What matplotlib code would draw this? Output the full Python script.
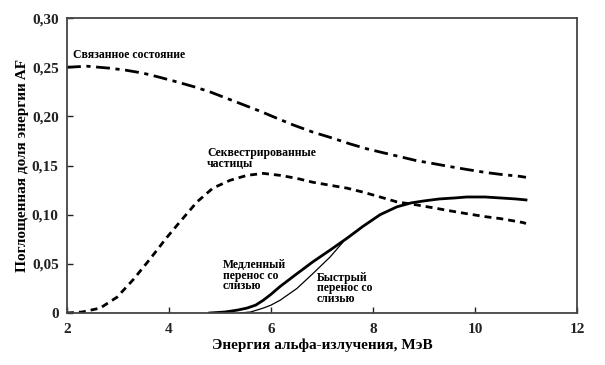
import matplotlib.pyplot as plt
from matplotlib.ticker import FixedLocator, FixedFormatter

plt.rcParams["font.family"] = ["Liberation Serif", "DejaVu Serif"]
plt.rcParams["font.weight"] = "bold"

# Связанное состояние (dash-dot)
bound_x = [2.0, 2.4, 2.84, 3.15, 3.49, 3.8, 4.16, 4.5, 4.8, 5.1, 5.45, 5.8, 6.12, 6.45, 6.82,
           7.2, 7.55, 7.88, 8.2, 8.53, 8.85, 9.18, 9.5, 9.84, 10.2, 10.5, 10.88, 11.0]
bound_y = [0.250, 0.251, 0.249, 0.247, 0.244, 0.240, 0.235, 0.230, 0.225, 0.219, 0.212, 0.205,
           0.198, 0.191, 0.184, 0.178, 0.172, 0.167, 0.163, 0.159, 0.155, 0.152, 0.149,
           0.146, 0.143, 0.141, 0.139, 0.138]

# Секвестрированные частицы (dashed)
seq_x = [2.0, 2.3, 2.65, 2.98, 3.3, 3.63, 3.96, 4.22, 4.55, 4.86, 5.2, 5.53, 5.85, 6.18, 6.5,
         6.82, 7.15, 7.49, 7.8, 8.14, 8.47, 8.85, 9.18, 9.5, 9.84, 10.2, 10.5, 10.94, 11.0]
seq_y = [0.0, 0.001, 0.005, 0.016, 0.034, 0.055, 0.077, 0.093, 0.113, 0.127, 0.135, 0.140,
         0.142, 0.140, 0.137, 0.133, 0.130, 0.127, 0.123, 0.118, 0.113, 0.110, 0.107, 0.104,
         0.101, 0.098, 0.096, 0.092, 0.091]

# Медленный перенос со слизью (thick solid)
slow_x = [4.8, 5.1, 5.35, 5.53, 5.7, 5.85, 6.0, 6.18, 6.51, 6.82, 7.16, 7.49, 7.8, 8.14,
          8.47, 8.75, 9.0, 9.3, 9.6, 9.84, 10.2, 10.5, 10.8, 11.0]
slow_y = [0.0, 0.001, 0.003, 0.005, 0.008, 0.013, 0.019, 0.027, 0.040, 0.052, 0.064, 0.076,
          0.088, 0.100, 0.108, 0.112, 0.114, 0.116, 0.117, 0.118, 0.118, 0.117, 0.116, 0.115]

# Быстрый перенос со слизью (thin solid)
fast_x = [5.39, 5.6, 5.85, 6.0, 6.18, 6.51, 6.82, 7.16, 7.41]
fast_y = [0.0, 0.001, 0.005, 0.008, 0.013, 0.025, 0.040, 0.057, 0.072]

x_ticks = [2, 4, 6, 8, 10, 12]
y_ticks = [0, 0.05, 0.10, 0.15, 0.20, 0.25, 0.30]
y_labels = ["0", "0,05", "0,10", "0,15", "0,20", "0,25", "0,30"]

fig = plt.figure(figsize=(6.05, 3.65), dpi=100)
ax = fig.add_axes([0.1107, 0.1425, 0.843, 0.808])

ax.plot(bound_x, bound_y, color="black", lw=2.0, dashes=(5, 2, 1.5, 2))
ax.plot(seq_x, seq_y, color="black", lw=2.0, dashes=(2.5, 1.8))
ax.plot(slow_x, slow_y, color="black", lw=2.0)
ax.plot(fast_x, fast_y, color="black", lw=0.9)

ax.set_xlim(2, 12)
ax.set_ylim(0, 0.30)
ax.xaxis.set_major_locator(FixedLocator(x_ticks))
ax.yaxis.set_major_locator(FixedLocator(y_ticks))
ax.yaxis.set_major_formatter(FixedFormatter(y_labels))
ax.tick_params(direction="in", length=4, width=1, labelsize=11, pad=6, colors="#222222")
ax.tick_params(axis="x", pad=7)
for s in ax.spines.values():
    s.set_color("#444444")
    s.set_linewidth(1.3)

ax.set_xlabel("Энергия альфа-излучения, МэВ", fontsize=11, fontweight="bold", labelpad=2)
ax.set_ylabel("Поглощенная доля энергии AF", fontsize=11, fontweight="bold", labelpad=2)

fs = 8.5
ax.text(2.12, 0.262, "Связанное состояние", fontsize=fs, fontweight="bold", va="center")
ax.text(4.75, 0.157, "Секвестрированные\nчастицы", fontsize=fs, fontweight="bold",
        va="center", linespacing=0.85)
ax.text(5.06, 0.038, "Медленный\nперенос со\nслизью", fontsize=fs, fontweight="bold",
        va="center", linespacing=0.85)
ax.text(6.9, 0.025, "Быстрый\nперенос со\nслизью", fontsize=fs, fontweight="bold",
        va="center", linespacing=0.85)

fig.savefig("out.png", dpi=100)
